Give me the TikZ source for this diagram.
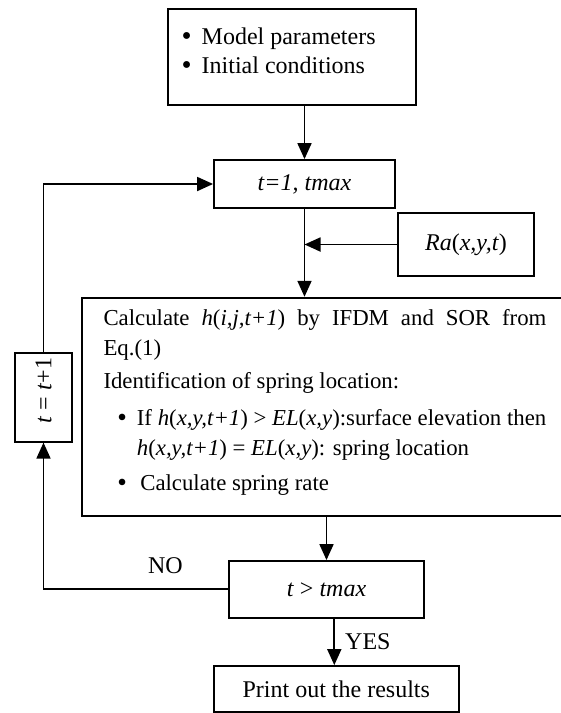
\documentclass[tikz,border=0pt]{standalone}
\usepackage{fontspec}
\setmainfont{Liberation Serif}
\usetikzlibrary{arrows.meta, positioning, calc}

\newcommand{\dotmark}{\raisebox{-0.7pt}{\scalebox{1.2}{\textbullet}}}

\begin{document}
\begin{tikzpicture}[
    x=0.5pt, y=-0.5pt,
    font=\fontsize{12}{14.5}\selectfont,
    block/.style={rectangle, draw=black, line width=0.9pt, inner sep=0pt, align=center},
    flow/.style={-{Triangle[length=8pt, width=7pt]}, line width=0.9pt},
    lbl/.style={inner sep=0pt}
]
    \useasboundingbox (0,0) rectangle (561,713);
    \clip (0,0) rectangle (561,713);

    % Blocks
    \node[block, minimum width=124pt, minimum height=47.9pt] (params) at (292,57.2)
        {\parbox[c][47.9pt][t]{110.3pt}{\vspace*{9.3pt}\makebox[10pt][l]{\dotmark}Model parameters\\
        \makebox[10pt][l]{\dotmark}Initial conditions}};
    \node[block, minimum width=90.5pt, minimum height=24pt] (init) at (304.5,184) {\textit{t=1, tmax}};
    \node[block, minimum width=68pt, minimum height=31.5pt] (rain) at (466,244.5) {\textit{Ra}(\textit{x,y,t})};
    \node[block, minimum width=243pt, minimum height=109.2pt] (calc) at (325,406.9)
        {\parbox[c][109.2pt][t]{221.5pt}{\fontsize{11.4}{15}\selectfont\parskip=0pt\vspace*{6pt}%
        Calculate \textit{h}(\textit{i,j,t+1}) by IFDM and SOR from\linebreak Eq.(1)\par
        \vspace{1.5pt}Identification of spring location:\par
        \vspace{3.3pt}\hspace*{7pt}\makebox[9.7pt][l]{\dotmark}\mbox{If \textit{h}(\textit{x,y,t+1}) > \textit{EL}(\textit{x,y}):surface elevation then}\newline
        \hspace*{16.7pt}\textit{h}(\textit{x,y,t+1}) = \textit{EL}(\textit{x,y}): spring location\par
        \vspace{2.5pt}\hspace*{7pt}\makebox[11.4pt][l]{\dotmark}Calculate spring rate}};
    \node[block, minimum width=28.5pt, minimum height=44.2pt] (update) at (43.5,397.5)
        {\rotatebox{90}{\hspace*{7pt}\textit{t} = \textit{t}+1}};
    \node[block, minimum width=97.5pt, minimum height=28.3pt] (check) at (326.5,589.3) {\textit{t} > \textit{tmax}};
    \node[block, minimum width=122.3pt, minimum height=23pt] (result) at (336.3,689) {Print out the results};

    % Flow
    \draw[flow] (init.north |- params.south) -- (init.north);
    \draw[flow] (init.south) -- (calc.north -| init.south);
    \draw[flow] (rain.west) -- (rain.west -| init.south);
    \draw[flow] (calc.south -| check.north) -- (check.north);
    \draw[flow] ([xshift=-1pt]result.north |- check.south) -- node[lbl, right=5pt] {YES} ([xshift=-1pt]result.north);

    % Loop back
    \draw[flow] (check.west) -- node[lbl, above=7.5pt, pos=0.34] {NO} (check.west -| update.south) -- (update.south);
    \draw[flow] (update.north) -- (update.north |- init.west) -- (init.west);
\end{tikzpicture}
\end{document}
